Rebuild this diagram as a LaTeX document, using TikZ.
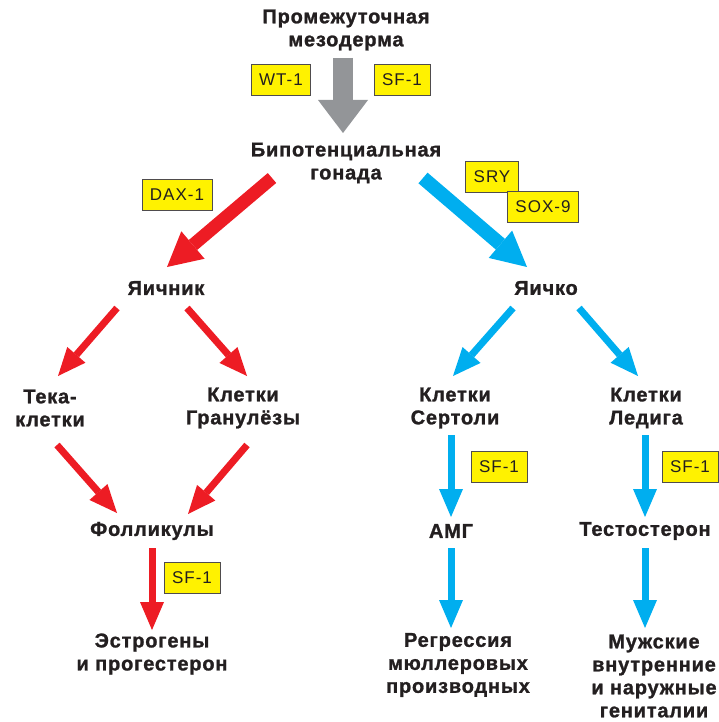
\documentclass[tikz,border=0pt]{standalone}
\usepackage{fontspec}
\setmainfont{Liberation Sans}
\newfontfamily\heavyfont[FakeBold=1.2, LetterSpace=4]{Liberation Sans}
\newfontfamily\facfont[LetterSpace=6]{Liberation Sans}
\usetikzlibrary{arrows.meta}
\definecolor{gdred}{HTML}{ED1C24}
\definecolor{gdblue}{HTML}{00AEEF}
\definecolor{gdgray}{HTML}{939598}
\definecolor{gdyellow}{HTML}{FFF200}
\definecolor{gdink}{HTML}{231F20}

\begin{document}
\begin{tikzpicture}[x=1pt, y=-1pt,
  lbl/.style={font=\fontsize{20}{23}\selectfont\heavyfont\bfseries, text=gdink, align=center, inner sep=1pt},
  fac/.style={draw=gdink!80, line width=0.8pt, fill=gdyellow, font=\fontsize{17}{20}\selectfont\facfont, text=gdink, inner xsep=8pt, inner ysep=0pt, minimum height=31pt},
  grayarr/.style={draw=gdgray, line width=20pt, -{Triangle[width=50pt, length=33pt, line width=0pt]}},
  redbig/.style={draw=gdred, line width=13pt, -{Triangle[width=36pt, length=34pt, line width=0pt]}},
  bluebig/.style={draw=gdblue, line width=14pt, -{Triangle[width=36pt, length=35pt, line width=0pt]}},
  redarr/.style={draw=gdred, line width=7pt, -{Triangle[width=24pt, length=28pt, line width=0pt]}},
  bluearr/.style={draw=gdblue, line width=7pt, -{Triangle[width=24pt, length=28pt, line width=0pt]}}
]
  \useasboundingbox (0,0) rectangle (719,722);

  \node[lbl] (meso) at (346, 30) {Промежуточная\\мезодерма};
  \node[lbl] (bipot) at (346, 163) {Бипотенциальная\\гонада};
  \node[lbl] (ovary) at (166, 288) {Яичник};
  \node[lbl] (testis) at (546, 288) {Яичко};
  \node[lbl] (theca) at (50, 408) {Тека-\\клетки};
  \node[lbl] (granul) at (243, 408) {Клетки\\Гранулёзы};
  \node[lbl] (sertoli) at (455, 408) {Клетки\\Сертоли};
  \node[lbl] (leydig) at (646, 408) {Клетки\\Ледига};
  \node[lbl] (follic) at (152, 531) {Фолликулы};
  \node[lbl] (amh) at (451, 531) {АМГ};
  \node[lbl] (testo) at (645, 531) {Тестостерон};
  \node[lbl] (estro) at (152, 654) {Эстрогены\\и прогестерон};
  \node[lbl] (regr) at (458, 665) {Регрессия\\мюллеровых\\производных};
  \node[lbl] (genit) at (654, 676) {Мужские\\внутренние\\и наружные\\гениталии};

  % transcription factors
  \node[fac] (wt) at (281, 80) {WT-1};
  \node[fac] (sfmeso) at (402, 80) {SF-1};
  \node[fac] (dax) at (177, 195) {DAX-1};
  \node[fac] (sry) at (492, 177) {SRY};
  \node[fac] (sox) at (543, 207) {SOX-9};
  \node[fac] (sfovar) at (192, 578) {SF-1};
  \node[fac] (sfsert) at (499, 467) {SF-1};
  \node[fac] (sfleyd) at (690, 467) {SF-1};

  \draw[grayarr] ([shift={(-3,28)}]meso.center) -- ([shift={(-3,-30)}]bipot.center);
  \draw[redbig] ([shift={(-74,15)}]bipot.center) -- ([shift={(1,-21)}]ovary.center);
  \draw[bluebig] ([shift={(77,15)}]bipot.center) -- ([shift={(-19,-21)}]testis.center);

  \draw[redarr] ([shift={(-49,20)}]ovary.center) -- ([shift={(8,-32)}]theca.center);
  \draw[redarr] ([shift={(21,20)}]ovary.center) -- ([shift={(4,-32)}]granul.center);
  \draw[redarr] ([shift={(7,37)}]theca.center) -- ([shift={(-35,-18)}]follic.center);
  \draw[redarr] ([shift={(4,37)}]granul.center) -- ([shift={(36,-17)}]follic.center);
  \draw[redarr] ([shift={(0,17)}]follic.center) -- ([shift={(0,-24)}]estro.center);

  \draw[bluearr] ([shift={(-33,20)}]testis.center) -- ([shift={(-2,-32)}]sertoli.center);
  \draw[bluearr] ([shift={(33,20)}]testis.center) -- ([shift={(-8,-32)}]leydig.center);
  \draw[bluearr] ([shift={(-4,27)}]sertoli.center) -- ([shift={(0,-14)}]amh.center);
  \draw[bluearr] ([shift={(-1,27)}]leydig.center) -- ([shift={(0,-14)}]testo.center);
  \draw[bluearr] ([shift={(0,17)}]amh.center) -- ([shift={(-7,-37)}]regr.center);
  \draw[bluearr] ([shift={(0,17)}]testo.center) -- ([shift={(-9,-48)}]genit.center);
\end{tikzpicture}
\end{document}
